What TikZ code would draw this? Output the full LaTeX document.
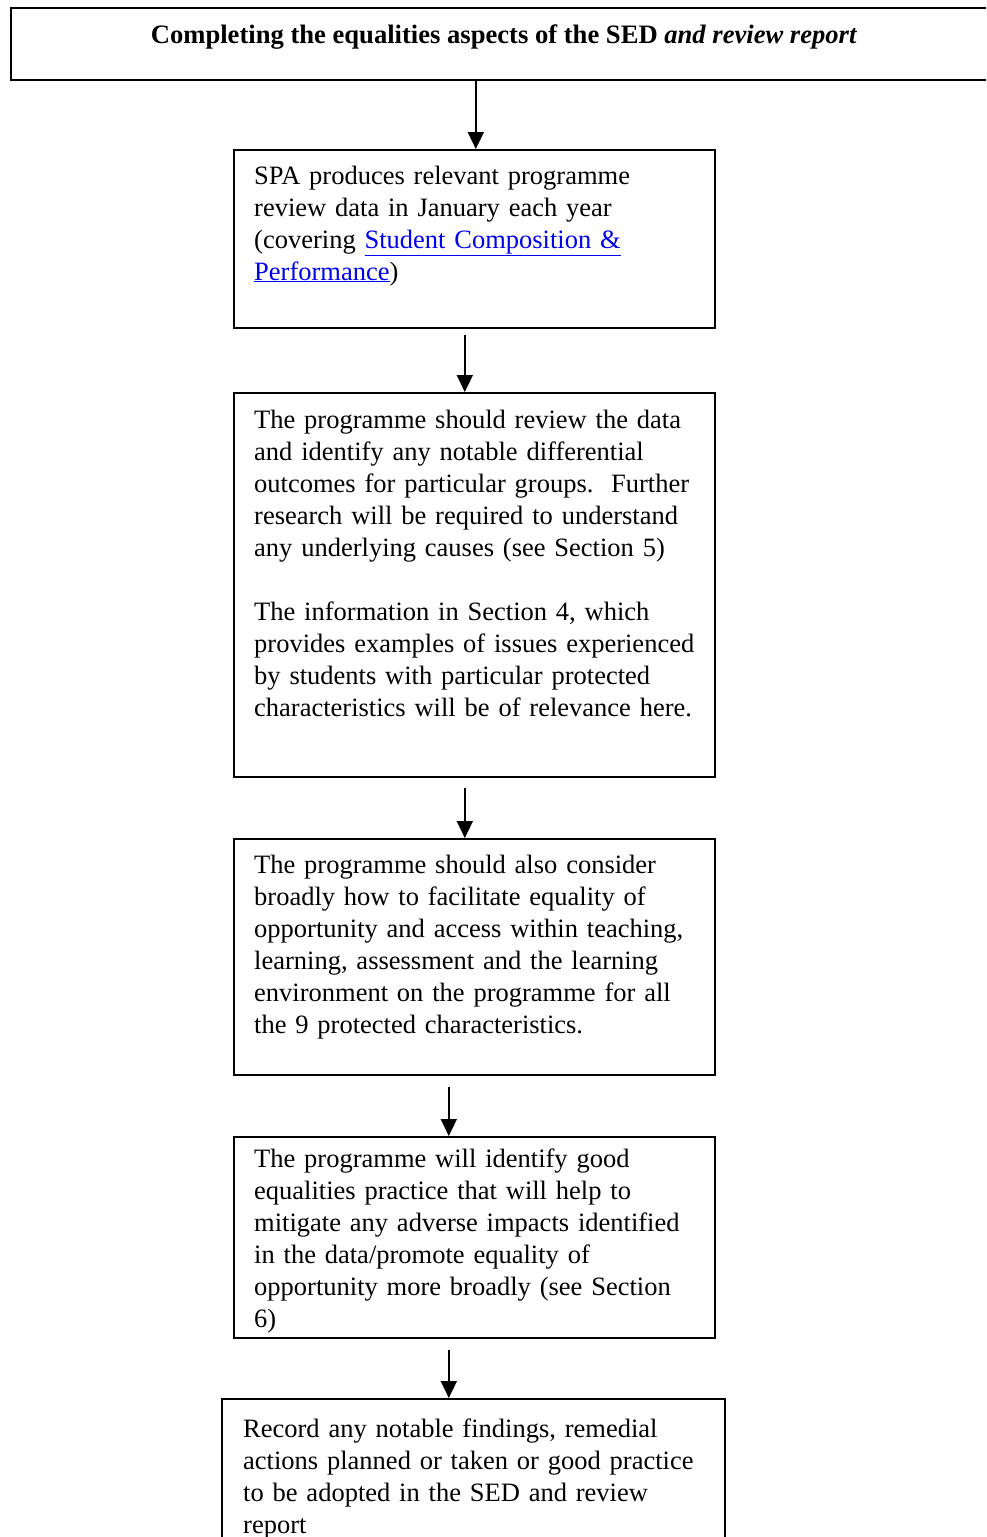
\documentclass[tikz,border=0pt]{standalone}
\usepackage{fontspec}
\setmainfont{Liberation Serif}
\usetikzlibrary{arrows.meta}
\definecolor{linkblue}{RGB}{0,0,238}
\newcommand{\weblink}[1]{{\color{linkblue}\underline{#1}}}
\begin{document}
\begin{tikzpicture}[x=1pt,y=-1pt,
  box/.style={draw, line width=1.6pt, anchor=north west, inner sep=0pt},
  txt/.style={anchor=base west, inner sep=0pt, align=left, text width=#1,
              font=\fontsize{26.5}{32}\selectfont},
  flow/.style={line width=1.8pt, -{Triangle[width=16pt,length=17pt]}}]
\clip (0,0) rectangle (986,1537);

% header box
\node[box, minimum width=990pt, minimum height=72pt] (top) at (10,7) {};
\node[anchor=base, inner sep=0pt, font=\bfseries\fontsize{26.6}{30}\selectfont] (ttl) at (504,43)
  {Completing the equalities aspects of the SED \textit{and review report}};

% step boxes
\node[box, minimum width=481pt, minimum height=178pt] (b2) at (233,149) {};
\node[box, minimum width=481pt, minimum height=384pt] (b3) at (233,392) {};
\node[box, minimum width=481pt, minimum height=236pt] (b4) at (233,838) {};
\node[box, minimum width=481pt, minimum height=201pt] (b5) at (233,1136) {};
\node[box, minimum width=503pt, minimum height=220pt] (b6) at (221,1398) {};

% box texts
\node[txt=520pt] (t2) at (254,184) {SPA produces relevant programme\\
review data in January each year\\
(covering \weblink{Student Composition \&}\\
\weblink{Performance})};

\node[txt=520pt] (t3) at (254,428) {The programme should review the data\\
and identify any notable differential\\
outcomes for particular groups.\ \ Further\\
research will be required to understand\\
any underlying causes (see Section 5)\\[32pt]
The information in Section 4, which\\
provides examples of issues experienced\\
by students with particular protected\\
characteristics will be of relevance here.};

\node[txt=520pt] (t4) at (254,873) {The programme should also consider\\
broadly how to facilitate equality of\\
opportunity and access within teaching,\\
learning, assessment and the learning\\
environment on the programme for all\\
the 9 protected characteristics.};

\node[txt=520pt] (t5) at (254,1167) {The programme will identify good\\
equalities practice that will help to\\
mitigate any adverse impacts identified\\
in the data/promote equality of\\
opportunity more broadly (see Section\\
6)};

\node[txt=520pt] (t6) at (243,1437) {Record any notable findings, remedial\\
actions planned or taken or good practice\\
to be adopted in the SED and review\\
report};

% connectors
\draw[flow] ([xshift=-30pt]top.south) -- ([xshift=1.5pt]b2.north);
\draw[flow] ([xshift=-9.5pt,yshift=-6pt]b2.south) -- ([xshift=-9.5pt]b3.north);
\draw[flow] ([xshift=-9.5pt,yshift=-10pt]b3.south) -- ([xshift=-9.5pt]b4.north);
\draw[flow] ([xshift=-25.5pt,yshift=-11pt]b4.south) -- ([xshift=-25.5pt]b5.north);
\draw[flow] ([xshift=-25.5pt,yshift=-11pt]b5.south) -- ([xshift=-24.5pt]b6.north);
\end{tikzpicture}
\end{document}
